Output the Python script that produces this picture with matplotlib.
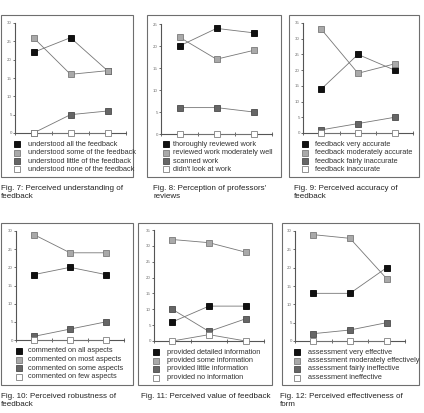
import matplotlib
matplotlib.use('Agg')
import matplotlib.pyplot as plt
from matplotlib.patches import Rectangle
from matplotlib.lines import Line2D

plt.rcParams['font.family'] = ['Liberation Sans', 'DejaVu Sans']

# data, one block per figure
fig7_labels = ['understood all the feedback', 'understood some of the feedback',
               'understood little of the feedback', 'understood none of the feedback']
fig7_values = [[22, 26, 17], [26, 16, 17], [0, 5, 6], [0, 0, 0]]
fig7_ymax = 30
fig7_caption = 'Fig. 7: Perceived understanding of\nfeedback'

fig8_labels = ['thoroughly reviewed work', 'reviewed work moderately well',
               'scanned work', "didn't look at work"]
fig8_values = [[20, 24, 23], [22, 17, 19], [6, 6, 5], [0, 0, 0]]
fig8_ymax = 25
fig8_caption = "Fig. 8: Perception of professors'\nreviews"

fig9_labels = ['feedback very accurate', 'feedback moderately accurate',
               'feedback fairly inaccurate', 'feedback inaccurate']
fig9_values = [[14, 25, 20], [33, 19, 22], [1, 3, 5], [0, 0, 0]]
fig9_ymax = 35
fig9_caption = 'Fig. 9: Perceived accuracy of\nfeedback'

fig10_labels = ['commented on all aspects', 'commented on most aspects',
                'commented on some aspects', 'commented on few aspects']
fig10_values = [[18, 20, 18], [29, 24, 24], [1, 3, 5], [0, 0, 0]]
fig10_ymax = 30
fig10_caption = 'Fig. 10: Perceived robustness of\nfeedback'

fig11_labels = ['provided detailed information', 'provided some information',
                'provided little information', 'provided no information']
fig11_values = [[6, 11, 11], [32, 31, 28], [10, 3, 7], [0, 2, 0]]
fig11_ymax = 35
fig11_caption = 'Fig. 11: Perceived value of feedback'

fig12_labels = ['assessment very effective', 'assessment moderately effectively',
                'assessment fairly ineffective', 'assessment ineffective']
fig12_values = [[13, 13, 20], [29, 28, 17], [2, 3, 5], [0, 0, 0]]
fig12_ymax = 30
fig12_caption = 'Fig. 12: Perceived effectiveness of\nform'

# marker styles (face, edge) for the four series
faces = ['#111111', '#a9a9a9', '#666666', '#ffffff']
edges = ['#000000', '#7a7a7a', '#4a4a4a', '#808080']

W, H = 424, 413

def fx(x):
    return x / W

def fy(y):
    return 1 - y / H

# pixel layout: box, axes (l, t, r, b), legend marker x, text x, first legend row, caption pos
layout = [
    dict(box=(1, 15, 133, 177), ax=(15, 23, 126, 133), mx=17, tx=28, ly=144, cap=(1, 189)),
    dict(box=(147, 15, 281, 177), ax=(161, 24, 272, 134), mx=166, tx=173, ly=144, cap=(153, 189)),
    dict(box=(289, 15, 419, 177), ax=(303, 23, 413, 133), mx=305, tx=315, ly=144, cap=(294, 189)),
    dict(box=(1, 223, 133, 385), ax=(16, 231, 124, 340), mx=19, tx=28, ly=351, cap=(1, 397)),
    dict(box=(138, 223, 272, 385), ax=(154, 230, 264, 341), mx=156, tx=167, ly=352, cap=(141, 397)),
    dict(box=(282, 223, 419, 385), ax=(295, 231, 405, 341), mx=297, tx=308, ly=352, cap=(280, 397)),
]

panels = [
    (fig7_labels, fig7_values, fig7_ymax, fig7_caption),
    (fig8_labels, fig8_values, fig8_ymax, fig8_caption),
    (fig9_labels, fig9_values, fig9_ymax, fig9_caption),
    (fig10_labels, fig10_values, fig10_ymax, fig10_caption),
    (fig11_labels, fig11_values, fig11_ymax, fig11_caption),
    (fig12_labels, fig12_values, fig12_ymax, fig12_caption),
]

fig = plt.figure(figsize=(4.24, 4.13), dpi=100)

for (labels, values, ymax, caption), lay in zip(panels, layout):
    bl, bt, br, bb = lay['box']
    fig.add_artist(Rectangle((fx(bl), fy(bb)), fx(br) - fx(bl), fy(bt) - fy(bb),
                             transform=fig.transFigure, fill=False,
                             edgecolor='#6e6e6e', linewidth=0.8))

    al, at, ar, ab = lay['ax']
    ax = fig.add_axes([fx(al), fy(ab), fx(ar) - fx(al), fy(at) - fy(ab)])
    ax.patch.set_alpha(0)
    xs = [0, 1, 2]
    for vals, fc, ec in zip(values, faces, edges):
        ax.plot(xs, vals, color='#777777', linewidth=0.6, marker='s',
                markersize=3.9, markerfacecolor=fc, markeredgecolor=ec,
                markeredgewidth=0.6, clip_on=False, zorder=3)
    ax.set_xlim(-0.5, 2.5)
    ax.set_ylim(0, ymax)
    ax.set_xticks([-0.5, 0.5, 1.5, 2.5])
    ax.set_xticklabels([])
    ax.set_yticks(range(0, ymax + 1, 5))
    ax.tick_params(axis='y', labelsize=3.2, labelcolor='#707070', color='#555555',
                   length=1.5, width=0.6, pad=0.8)
    ax.tick_params(axis='x', color='#555555', length=3, width=0.6, direction='inout')
    for s in ['top', 'right']:
        ax.spines[s].set_visible(False)
    for s in ['left', 'bottom']:
        ax.spines[s].set_color('#555555')
        ax.spines[s].set_linewidth(0.8)

    for i, (lab, fc, ec) in enumerate(zip(labels, faces, edges)):
        y = lay['ly'] + i * 8.5
        fig.add_artist(Line2D([fx(lay['mx'])], [fy(y)], transform=fig.transFigure,
                              marker='s', markersize=3.8, markerfacecolor=fc,
                              markeredgecolor=ec, markeredgewidth=0.6, linestyle='none'))
        fig.text(fx(lay['tx']), fy(y), lab, fontsize=5.3, color='#333333',
                 ha='left', va='center')

    cx, cy = lay['cap']
    fig.text(fx(cx), fy(cy - 4), caption, fontsize=5.8, color='#222222',
             ha='left', va='top', linespacing=1.15)

fig.savefig('out.png', dpi=100)
